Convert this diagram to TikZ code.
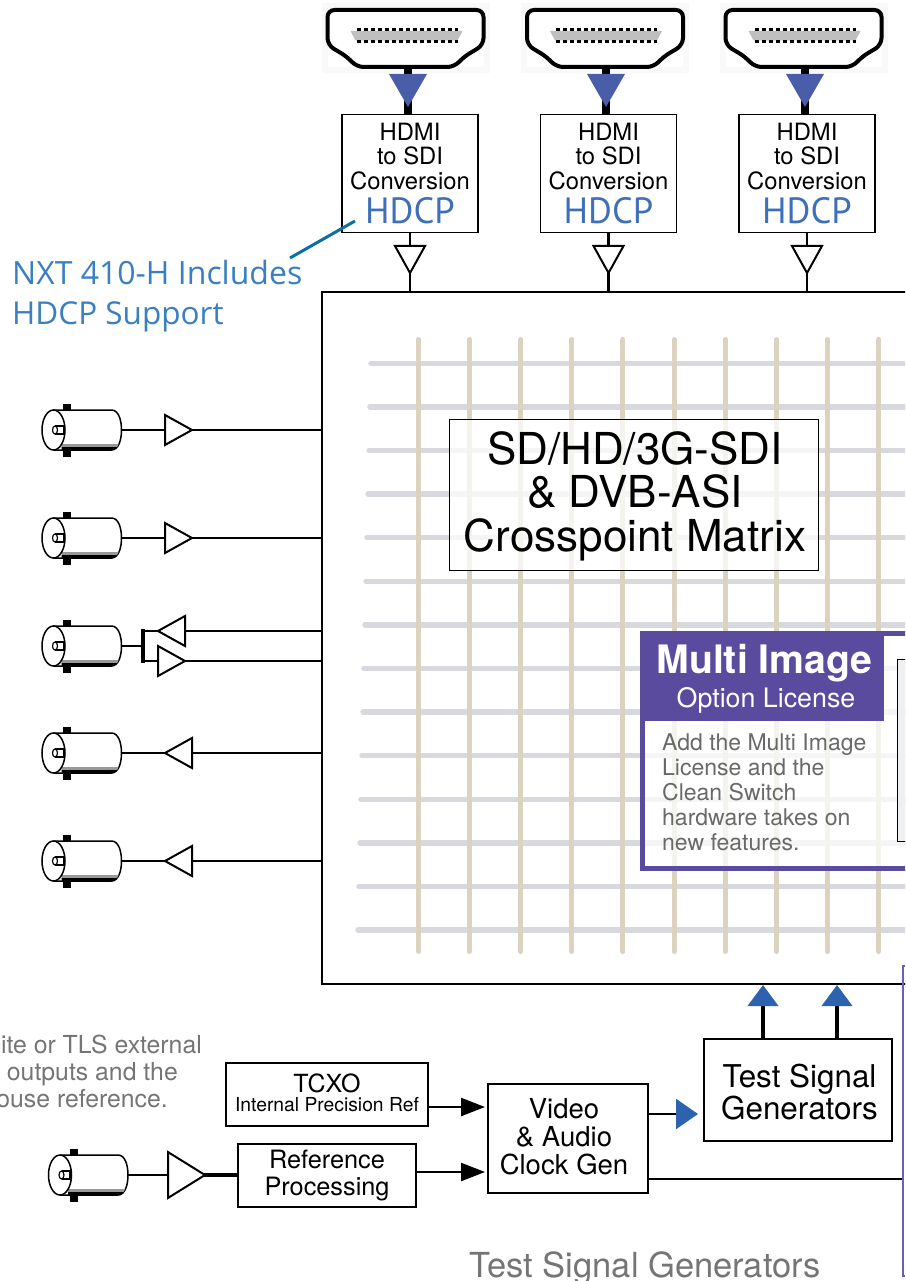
\documentclass[tikz,border=0pt]{standalone}
\usepackage{fontspec}
\usetikzlibrary{arrows.meta}
\setmainfont{TeX Gyre Heros}
\newfontfamily\bluefont{PT Sans}
\newfontfamily\notefont{Open Sans}
\definecolor{hdmiblue}{HTML}{4A5DA8}
\definecolor{arrowblue}{HTML}{2D62AE}
\definecolor{hdcpblue}{HTML}{3D70B8}
\definecolor{noteblue}{HTML}{3A7FC1}
\definecolor{pointer}{HTML}{0F6FA3}
\definecolor{multi}{HTML}{5B4B9F}
\definecolor{busline}{HTML}{6A5FB0}
\definecolor{rowgray}{HTML}{D8D9DF}
\definecolor{colsand}{HTML}{DBD2BF}
\definecolor{textgray}{HTML}{757575}
\tikzset{
  block/.style = {draw, fill = white, line width = 1.8pt, inner sep = 0pt, align = center},
  blocktext/.style = {inner sep = 0pt, align = center},
  wire/.style = {line width = 2.4pt},
  busw/.style = {line width = 3.2pt},
  lbl/.style = {inner sep = 0pt, anchor = base},
  note/.style = {inner sep = 0pt, anchor = base east, text = textgray, font = \fontsize{24.8}{27}\selectfont},
  blue tip/.style = {-{Triangle[length = #1, width = 30pt, color = arrowblue]}},
  black tip/.style = {-{Triangle[length = 24pt, width = 18pt]}},
  pics/buffer/.style = {code = {
    \draw[fill = white, line width = 2pt, line join = miter] (0, -15) -- (27, 0) -- (0, 15) -- cycle;
  }},
  pics/bnc/.style = {code = {
    \fill (9.5, -26.5) rectangle (17.5, -19);
    \fill (9.5, 19) rectangle (17.5, 26.5);
    \draw[fill = white, line width = 1.5pt] (0, -20) -- (58, -20)
      .. controls (65, -20) and (68, -10) .. (68, 0)
      .. controls (68, 10) and (65, 20) .. (58, 20) -- (0, 20);
    \fill[gray!80] (8, 14) -- (65, 14) -- (63.5, 17) -- (8, 17) -- cycle;
    \fill (8, 17) -- (63.5, 17) -- (60, 20) -- (8, 20) -- cycle;
    \draw[fill = white, line width = 1.5pt] (0, 0) circle [x radius = 11.5, y radius = 20];
    \draw[line width = 1.2pt] (1.5, 0) circle [x radius = 2.5, y radius = 4];
    \draw[line width = 1.2pt] (1.5, -4) -- (10, -4) -- (10, 4) -- (1.5, 4);
    \coordinate (-out) at (68, 0);
  }},
  pics/hdmi/.style = {code = {
    \fill[white] (-78, 10) rectangle (78, 67);
    \draw[line width = 4pt, rounded corners = 7pt, fill = white] (-78, 10) -- (78, 10) -- (78, 45)
      -- (58, 57) -- (49, 67) -- (-49, 67) -- (-58, 57) -- (-78, 45) -- cycle;
    \fill[gray!50] (-55, 31) -- (57, 31) -- (52, 40.5) -- (-50, 40.5) -- cycle;
    \draw[line width = 3pt, dash pattern = on 4pt off 3pt] (-49, 29.5) -- (52, 29.5);
    \draw[line width = 3pt, dash pattern = on 4pt off 3pt] (-49, 41.5) -- (52, 41.5);
  }}
}

\begin{document}
\begin{tikzpicture}[x = 1pt, y = -1pt]
\path[clip, use as bounding box] (0, 0) rectangle (905, 1281);
\node[block, minimum width = 593pt, minimum height = 692pt] (matrix) at (618.5, 638) {};

% grid of the matrix
\foreach \i in {0, ..., 13}
  \draw[rowgray, line width = 5.5pt, line cap = round] ({371 - \i}, {363.3 + 43.6 * \i}) to (915, {363.3 + 43.6 * \i});
\foreach \i in {0, ..., 9}
  \draw[colsand, line width = 5pt, line cap = round] ({418.3 + 51.15 * \i}, 339.5) to ({418.3 + 51.15 * \i}, 951.5);

\fill[white, opacity = 0.75] (449, 419) rectangle (818, 570);
\node[draw, line width = 1pt, minimum width = 369pt, minimum height = 151pt] (titlebox) at (633.5, 494.5) {};
\node[blocktext, font = \fontsize{44}{43.6}\selectfont] (title) at ([xshift = 1.5pt, yshift = -1.5pt] titlebox.center)
  {SD/HD/3G-SDI\\\& DVB-ASI\\Crosspoint Matrix};

% multi image panel
\fill[white, opacity = 0.75] (642.5, 633.5) rectangle (915, 868.5);
\draw[multi, line width = 5pt] (915, 633.5) -- (642.5, 633.5) -- (642.5, 868.5) -- (915, 868.5);
\fill[multi] (640, 631) rectangle (884, 721);
\node[draw, fill = rowgray!40, line width = 1pt, minimum width = 30pt, minimum height = 182pt] (panel) at (912, 750) {};
\node[lbl, white, font = \bfseries\fontsize{39.2}{41}\selectfont] (multititle) at (764.5, 673) {Multi Image};
\node[lbl, white, font = \fontsize{26.8}{26}\selectfont] (multisub) at (766, 707) {Option License};
\node[anchor = north west, inner sep = 0pt, align = left, text = textgray!90!black, font = \fontsize{23}{25.1}\selectfont]
  (multitext) at (662, 733.5) {Add the Multi Image\\License and the\\Clean Switch\\hardware takes on\\new features.};

% hdmi inputs
\foreach \n/\cx/\bx/\tx in {a/405.5/410/408, b/605/608.5/606, c/803.5/807/805} {
  \fill[rowgray!15] ({\cx - 84}, 3) rectangle ({\cx + 84}, 73);
  \node[block, line width = 1.2pt, minimum width = 136pt, minimum height = 118pt] (conv\n) at (\bx, 173.5) {};
  \node[blocktext, font = \fontsize{23.8}{24.5}\selectfont] (text\n) at (conv\n.center)
    {HDMI\\to SDI\\Conversion\\[7pt]{\bluefont\color{hdcpblue}\fontsize{36.5}{35}\selectfont HDCP}};
  \coordinate (plug\n) at (\tx, 60);
  \draw[line width = 8pt] (plug\n) to (plug\n |- conv\n.north);
  \pic at (\cx, 0) {hdmi};
  \fill[hdmiblue] (\tx - 19, 74) -- (\tx + 19, 74) -- (\tx, 107) -- cycle;
  \draw[wire] (conv\n.south) to (conv\n.south |- matrix.north);
  \pic[rotate = -90] at (\bx, 246) {buffer};
}

\coordinate (notetip) at (355, 221);
\coordinate (noteend) at (290, 258);
\draw[pointer, line width = 3pt] (notetip) to (noteend);
\node[lbl, anchor = base west, text = noteblue, font = \notefont\fontsize{32}{31}\selectfont] (notea) at (12, 284) {NXT 410-H Includes};
\node[lbl, anchor = base west, text = noteblue, font = \notefont\fontsize{31.5}{31}\selectfont] (noteb) at (12, 324) {HDCP Support};

% connectors on the left
\foreach \n/\y in {a/430, b/538, c/646, d/753, e/861}
  \pic (bnc\n) at (53.5, \y) {bnc};
\draw[wire] (bnca-out) to (bnca-out -| matrix.west);
\draw[wire] (bncb-out) to (bncb-out -| matrix.west);
\draw[wire] (bncd-out) to (bncd-out -| matrix.west);
\draw[wire] (bnce-out) to (bnce-out -| matrix.west);
\pic at (165, 430) {buffer};
\pic at (165, 538) {buffer};
\pic[rotate = 180] at (192, 753) {buffer};
\pic[rotate = 180] at (192, 861) {buffer};

\coordinate (loopa) at (143, 631);
\coordinate (loopb) at (143, 661);
\draw[wire] (bncc-out) to (bncc-out -| loopa);
\draw[busw, line cap = rect] (loopa) to (loopb);
\draw[wire, line width = 2.8pt] (loopa) to (loopa -| matrix.west);
\draw[wire, line width = 2.8pt] (loopb) to (loopb -| matrix.west);
\pic[rotate = 180] at (185, 631) {buffer};
\pic at (158, 661) {buffer};

% reference and clocks
\node[note] (refa) at (202, 1053) {ite or TLS external};
\node[note] (refb) at (178, 1080) {outputs and the};
\node[note] (refc) at (168, 1107) {ouse reference.};

\node[block, minimum width = 202pt, minimum height = 63pt] (tcxo) at (327, 1094.5) {};
\node[blocktext] (tcxotext) at ([yshift = 1.5pt] tcxo.center)
  {\fontsize{25}{21}\selectfont TCXO\\[3pt]\fontsize{19.3}{21}\selectfont Internal Precision Ref};
\node[block, minimum width = 178pt, minimum height = 63pt] (refproc) at (327, 1175.5) {};
\node[blocktext, font = \fontsize{25.3}{27}\selectfont] (reftext) at (refproc.center) {Reference\\Processing};
\node[block, minimum width = 160pt, minimum height = 109pt] (clock) at (568, 1138.5) {};
\node[blocktext, font = \fontsize{27.5}{28}\selectfont] (clocktext) at ([xshift = -4pt, yshift = 2pt] clock.center) {Video\\\& Audio\\Clock Gen};
\node[block, line width = 1.2pt, minimum width = 188pt, minimum height = 102pt] (tsg) at (798, 1090) {};
\node[blocktext, font = \fontsize{31.4}{32}\selectfont] (tsgname) at ([xshift = 1.5pt, yshift = -2pt] tsg.center) {Test Signal\\Generators};

\pic (bncf) at (60, 1175) {bnc};
\coordinate (refbuf) at (168, 1175);
\draw[wire] (bncf-out) to (refbuf);
\draw[busw] (refbuf) to (refbuf -| refproc.west);
\pic[xscale = 1.37, yscale = 1.53] at (refbuf) {buffer};

\coordinate (clkina) at (485, 1107);
\coordinate (clkinb) at (485, 1172);
\coordinate (clkout) at (698, 1114);
\coordinate (busin) at (903, 1179);
\draw[wire, black tip] (clkina -| tcxo.east) to (clkina);
\draw[wire, black tip] (clkinb -| refproc.east) to (clkinb);
\draw[wire, blue tip = 22pt] (clkout -| clock.east) to (clkout);
\draw[wire] (busin -| clock.east) to (busin);

\coordinate (tsga) at (763, 985);
\coordinate (tsgb) at (837, 985);
\draw[line width = 4pt, blue tip = 21pt] (tsga |- tsg.north) to (tsga);
\draw[line width = 4pt, blue tip = 21pt] (tsgb |- tsg.north) to (tsgb);

\draw[busline, line width = 1.5pt] (905, 966) -- (903, 966) -- (903, 1276) -- (905, 1276);
\node[lbl, text = textgray, font = \fontsize{34.5}{36}\selectfont] (tsgtext) at (645, 1277) {Test Signal Generators};
\end{tikzpicture}
\end{document}
